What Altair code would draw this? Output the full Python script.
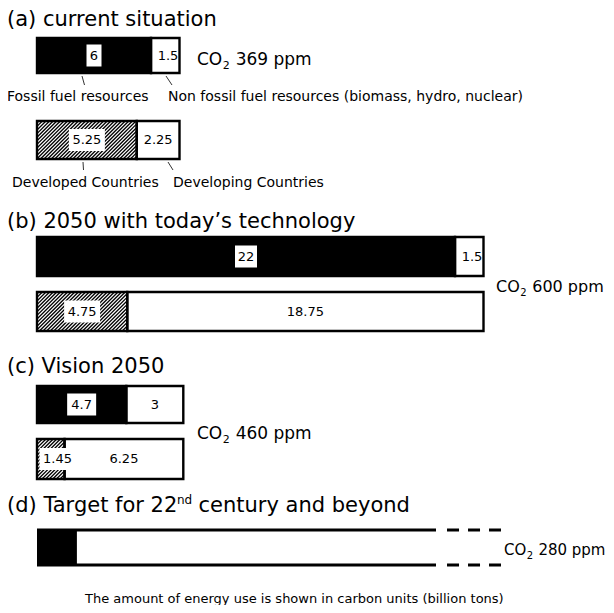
import altair as alt
import pandas as pd

# ---------------- data (energy use in carbon units, billion tons) ----------------
panel_titles = ["(a) current situation", "(b) 2050 with today\u2019s technology", "(c) Vision 2050"]
fossil = [6, 22, 4.7]
non_fossil = [1.5, 1.5, 3]
developed = [5.25, 4.75, 1.45]
developing = [2.25, 18.75, 6.25]
co2_ppm = [369, 600, 460, 280]
target_fossil = 2.1
fuel_labels = ["Fossil fuel resources", "Non fossil fuel resources (biomass, hydro, nuclear)"]
region_labels = ["Developed Countries", "Developing Countries"]
footnote = "The amount of energy use is shown in carbon units (billion tons)"

# ---------------- layout (reference pixel frame) ----------------
PPU = 19.0        # pixels per carbon unit
X_ZERO = 37.0     # pixel where value 0 sits
OFF = 8.0         # page margin
W, H = 598, 597
FUEL_ROWS = [(38, 73), (237, 276), (386, 423)]
REGION_ROWS = [(121, 159), (292, 331), (439, 479)]
D_ROW = (530, 565)
D_SOLID_END = 21.0
D_DASH = (21.58, 24.42)


def ux(px):
    return (px - X_ZERO) / PPU


xs = alt.Scale(domain=[0, 24], range=[X_ZERO - OFF, X_ZERO - OFF + 24 * PPU], nice=False, zero=False)
ys = alt.Scale(domain=[OFF, OFF + H], range=[0, H], nice=False, zero=False)

# ---------------- segments ----------------
seg = []
for i in range(3):
    f0, f1 = FUEL_ROWS[i]
    r0, r1 = REGION_ROWS[i]
    seg.append(dict(x=0.0, x2=fossil[i], y=f0, y2=f1, kind="fossil", val=fossil[i]))
    seg.append(dict(x=fossil[i], x2=fossil[i] + non_fossil[i], y=f0, y2=f1, kind="non_fossil", val=non_fossil[i]))
    seg.append(dict(x=0.0, x2=developed[i], y=r0, y2=r1, kind="developed", val=developed[i]))
    seg.append(dict(x=developed[i], x2=developed[i] + developing[i], y=r0, y2=r1, kind="developing", val=developing[i]))
seg_df = pd.DataFrame(seg)
seg_df["label"] = seg_df["val"].map(lambda v: f"{v:g}")
seg_df["ym"] = (seg_df["y"] + seg_df["y2"]) / 2
seg_df["bw"] = seg_df["label"].str.len() * 7 + 8
mid = (seg_df["x"] + seg_df["x2"]) / 2
seg_df["cx"] = [max(m, x0 + (bw / 2 + 2.5) / PPU) for m, x0, bw in zip(mid, seg_df["x"], seg_df["bw"])]
seg_df["bx"] = seg_df["cx"] - seg_df["bw"] / 2 / PPU
seg_df["bx2"] = seg_df["cx"] + seg_df["bw"] / 2 / PPU
seg_df["by"] = seg_df["ym"] - 11
seg_df["by2"] = seg_df["ym"] + 11
dark_df = seg_df[seg_df["kind"].isin(["fossil", "developed"])]

d_fill = pd.DataFrame([dict(x=0.0, x2=target_fossil, y=D_ROW[0], y2=D_ROW[1], kind="fossil")])
fill_df = pd.concat([seg_df[["x", "x2", "y", "y2", "kind"]], d_fill], ignore_index=True)

# hatch lines for "developed" segments (styling only)
hatch = []
STEP = 3.6
for _, r in seg_df[seg_df["kind"] == "developed"].iterrows():
    xa, xb = X_ZERO + r["x"] * PPU, X_ZERO + r["x2"] * PPU
    y0, y1 = r["y"], r["y2"]
    k = xa + y0 + STEP / 2
    while k < xb + y1:
        lo = max(xa, k - y1)
        hi = min(xb, k - y0)
        if hi > lo:
            hatch.append(dict(x=ux(lo), y=k - lo, x2=ux(hi), y2=k - hi))
        k += STEP
hatch_df = pd.DataFrame(hatch)

d_lines = pd.DataFrame([
    dict(x=0.0, x2=D_SOLID_END, y=D_ROW[0], y2=D_ROW[0]),
    dict(x=0.0, x2=D_SOLID_END, y=D_ROW[1], y2=D_ROW[1]),
])
d_dash = pd.DataFrame([
    dict(x=D_DASH[0], x2=D_DASH[1], y=D_ROW[0], y2=D_ROW[0]),
    dict(x=D_DASH[0], x2=D_DASH[1], y=D_ROW[1], y2=D_ROW[1]),
])

leaders = pd.DataFrame([
    dict(x=ux(82), x2=ux(84.5), y=76, y2=85),
    dict(x=ux(166), x2=ux(172), y=76, y2=85),
    dict(x=ux(83), x2=ux(83.5), y=162, y2=170),
    dict(x=ux(168), x2=ux(173), y=162, y2=170),
])

# ---------------- free text annotations ----------------
ann = []
TFS = 21
title_bl = [26, 228, 373]
for t, bl in zip(panel_titles, title_bl):
    ann.append(dict(text=t, px=7, py=bl, fs=TFS))
d_bl = 512
ann.append(dict(text="(d) Target for 22", px=7, py=d_bl, fs=TFS))
ann.append(dict(text="nd", px=177, py=d_bl - 8, fs=12))
ann.append(dict(text="century and beyond", px=198.5, py=d_bl, fs=TFS))
ann.append(dict(text=fuel_labels[0], px=7, py=101, fs=14))
ann.append(dict(text=fuel_labels[1], px=168, py=101, fs=14))
ann.append(dict(text=region_labels[0], px=12, py=187, fs=14))
ann.append(dict(text=region_labels[1], px=173, py=187, fs=14))
ann.append(dict(text=footnote, px=85, py=603, fs=13))

co2_pos = [(197, 65, 17), (496, 292, 16), (197, 439, 17), (504, 555, 15)]
for ppm, (x0, bl, fs) in zip(co2_ppm, co2_pos):
    sub = round(fs * 0.65)
    ann.append(dict(text="CO", px=x0, py=bl, fs=fs))
    ann.append(dict(text="2", px=x0 + 1.485 * fs + 0.5, py=bl + 4, fs=sub))
    ann.append(dict(text=f"{ppm} ppm", px=x0 + 1.485 * fs + 0.636 * sub + 0.318 * fs + 1, py=bl, fs=fs))
ann_df = pd.DataFrame(ann)
ann_df["tx"] = ann_df["px"] - OFF
ann_df["ty"] = ann_df["py"] - OFF

FONT = "DejaVu Sans"

X = lambda f: alt.X(f"{f}:Q", scale=xs, axis=None)
Y = lambda f: alt.Y(f"{f}:Q", scale=ys, axis=None)

fills = alt.Chart(fill_df).mark_rect(strokeWidth=0).encode(
    x=X("x"), x2="x2", y=Y("y"), y2="y2",
    color=alt.Color("kind:N", legend=None,
                    scale=alt.Scale(domain=["fossil", "non_fossil", "developed", "developing"],
                                    range=["#000000", "#ffffff", "#ffffff", "#ffffff"])),
)
hatches = alt.Chart(hatch_df).mark_rule(color="black", strokeWidth=1.3).encode(
    x=X("x"), x2="x2", y=Y("y"), y2="y2")
outlines = alt.Chart(seg_df).mark_rect(fillOpacity=0, stroke="black", strokeWidth=2.4).encode(
    x=X("x"), x2="x2", y=Y("y"), y2="y2")
boxes = alt.Chart(dark_df).mark_rect(color="white", strokeWidth=0).encode(
    x=X("bx"), x2="bx2", y=Y("by"), y2="by2")
dsolid = alt.Chart(d_lines).mark_rule(color="black", strokeWidth=3).encode(
    x=X("x"), x2="x2", y=Y("y"), y2="y2")
ddash = alt.Chart(d_dash).mark_rule(color="black", strokeWidth=3, strokeDash=[12, 9]).encode(
    x=X("x"), x2="x2", y=Y("y"), y2="y2")
lead = alt.Chart(leaders).mark_rule(color="#333333", strokeWidth=1).encode(
    x=X("x"), x2="x2", y=Y("y"), y2="y2")
values = alt.Chart(seg_df).mark_text(font=FONT, fontSize=13, align="center", baseline="middle",
                                     color="black").encode(
    x=X("cx"), y=Y("ym"), text="label:N")
texts = alt.Chart(ann_df).mark_text(font=FONT, align="left", baseline="alphabetic", color="black").encode(
    x=alt.X("tx:Q", scale=None, axis=None),
    y=alt.Y("ty:Q", scale=None, axis=None),
    size=alt.Size("fs:Q", scale=None, legend=None),
    text="text:N",
)

chart = alt.layer(fills, hatches, outlines, boxes, dsolid, ddash, lead, values, texts).properties(
    width=W, height=H, padding=0, background="white",
    autosize=alt.AutoSizeParams(type="none"),
).configure_view(strokeWidth=0)

chart.save("out.html", embed_options={"renderer": "svg", "actions": False})
